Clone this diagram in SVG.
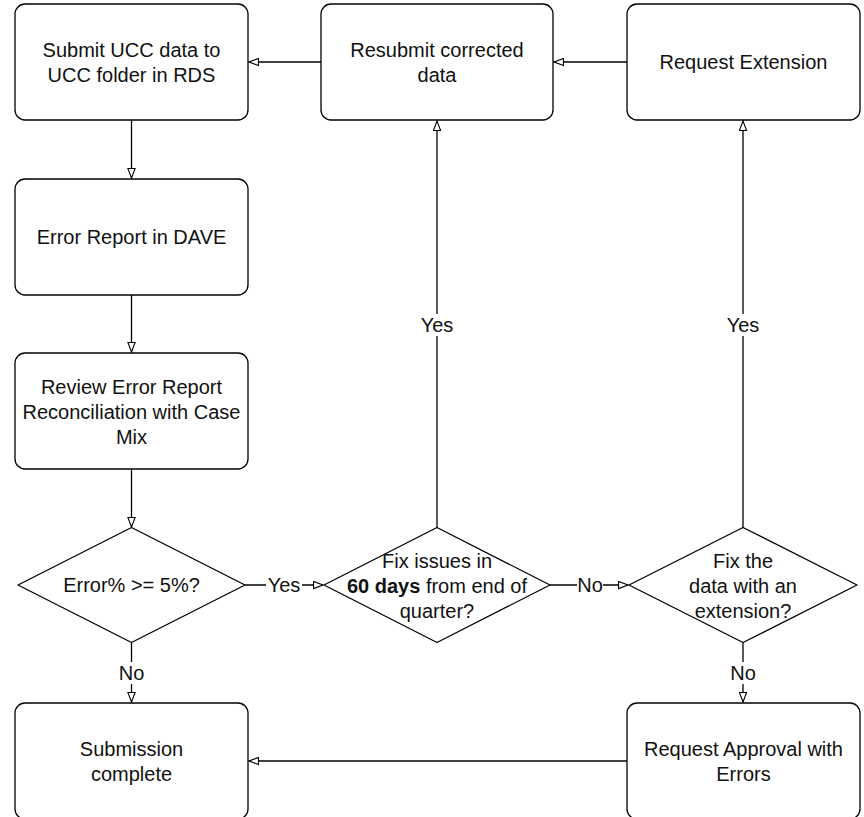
<svg xmlns="http://www.w3.org/2000/svg" width="864" height="817" viewBox="0 0 864 817">
<style>
.box{fill:#fff;stroke:#000;stroke-width:1.3}
.t{font-family:"Liberation Sans",Arial,sans-serif;font-size:20px;fill:#111;text-anchor:middle}
.c{fill:none;stroke:#000;stroke-width:1.3}
.lbl{fill:#fff}
</style>
<defs>
<marker id="a" viewBox="0 0 12 10" refX="11.5" refY="5" markerWidth="11" markerHeight="9" markerUnits="userSpaceOnUse" orient="auto">
<path d="M1,1 L11.5,5 L1,9 Z" fill="#fff" stroke="#000" stroke-width="1.2"/>
</marker>
</defs>
<rect width="864" height="817" fill="#fff"/>
<g id="connectors">
<path class="c" d="M321,62 H249" marker-end="url(#a)"/>
<path class="c" d="M627,62 H554" marker-end="url(#a)"/>
<path class="c" d="M131.5,120 V178" marker-end="url(#a)"/>
<path class="c" d="M131.5,295 V352" marker-end="url(#a)"/>
<path class="c" d="M131.5,469 V527" marker-end="url(#a)"/>
<path class="c" d="M245,585 H323" marker-end="url(#a)"/>
<rect class="lbl" x="266" y="574" width="36" height="22"/>
<text class="t" x="284" y="592">Yes</text>
<path class="c" d="M550,585 H628" marker-end="url(#a)"/>
<rect class="lbl" x="577" y="574" width="26" height="22"/>
<text class="t" x="590" y="592">No</text>
<path class="c" d="M437,528 V121" marker-end="url(#a)"/>
<rect class="lbl" x="419" y="314" width="36" height="22"/>
<text class="t" x="437" y="332">Yes</text>
<path class="c" d="M743,528 V121" marker-end="url(#a)"/>
<rect class="lbl" x="725" y="314" width="36" height="22"/>
<text class="t" x="743" y="332">Yes</text>
<path class="c" d="M131.5,643 V702" marker-end="url(#a)"/>
<rect class="lbl" x="118" y="662" width="27" height="22"/>
<text class="t" x="131.5" y="680">No</text>
<path class="c" d="M743,643 V702" marker-end="url(#a)"/>
<rect class="lbl" x="730" y="662" width="27" height="22"/>
<text class="t" x="743" y="680">No</text>
<path class="c" d="M627,761 H249" marker-end="url(#a)"/>
</g>
<g id="submit">
<rect class="box" x="15" y="4" width="233" height="116" rx="10"/>
<text class="t" x="131.5" y="57">Submit UCC data to</text>
<text class="t" x="131.5" y="82">UCC folder in RDS</text>
</g>
<g id="resubmit">
<rect class="box" x="321" y="4" width="232" height="116" rx="10"/>
<text class="t" x="437" y="57">Resubmit corrected</text>
<text class="t" x="437" y="82">data</text>
</g>
<g id="extension">
<rect class="box" x="627" y="4" width="233" height="116" rx="10"/>
<text class="t" x="743.5" y="69">Request Extension</text>
</g>
<g id="errorreport">
<rect class="box" x="15" y="179" width="233" height="116" rx="10"/>
<text class="t" x="131.5" y="244">Error Report in DAVE</text>
</g>
<g id="review">
<rect class="box" x="15" y="353" width="233" height="116" rx="10"/>
<text class="t" x="131.5" y="394">Review Error Report</text>
<text class="t" x="131.5" y="419">Reconciliation with Case</text>
<text class="t" x="131.5" y="444">Mix</text>
</g>
<g id="errorpct">
<path class="box" d="M131.5,527.5 L245,585 L131.5,642.5 L18,585 Z" stroke-linejoin="round"/>
<text class="t" x="131.5" y="592">Error% &gt;= 5%?</text>
</g>
<g id="fix60">
<path class="box" d="M437,527.5 L550,585 L437,642.5 L324,585 Z" stroke-linejoin="round"/>
<text class="t" x="437" y="568">Fix issues in</text>
<text class="t" x="437" y="593"><tspan font-weight="bold">60 days</tspan> from end of</text>
<text class="t" x="437" y="618">quarter?</text>
</g>
<g id="fixext">
<path class="box" d="M743,527.5 L857,585 L743,642.5 L629,585 Z" stroke-linejoin="round"/>
<text class="t" x="743" y="568">Fix the</text>
<text class="t" x="743" y="593">data with an</text>
<text class="t" x="743" y="618">extension?</text>
</g>
<g id="complete">
<rect class="box" x="15" y="703" width="233" height="116" rx="10"/>
<text class="t" x="131.5" y="756">Submission</text>
<text class="t" x="131.5" y="781">complete</text>
</g>
<g id="approval">
<rect class="box" x="627" y="703" width="233" height="116" rx="10"/>
<text class="t" x="743.5" y="756">Request Approval with</text>
<text class="t" x="743.5" y="781">Errors</text>
</g>
</svg>
